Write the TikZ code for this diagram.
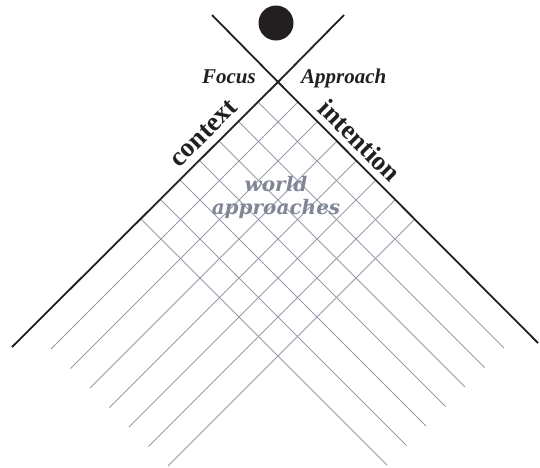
\documentclass[tikz,border=0pt]{standalone}
\usepackage{fontspec}
\setmainfont{Liberation Serif}
\newfontfamily\worldfont{DejaVu Serif}
\usepackage{tikz}
\usetikzlibrary{positioning,calc}
\definecolor{ink}{RGB}{35,31,32}
\definecolor{gridgray}{RGB}{150,155,170}
\definecolor{worldgray}{RGB}{128,134,150}

\begin{document}
\begin{tikzpicture}[x=1pt, y=-1pt]
    \tikzset{
        axis/.style={draw=ink, line width=1.8pt},
        gridline/.style={draw=gridgray, line width=1pt},
        sun/.style={circle, fill=ink, minimum size=35pt, inner sep=0pt},
        tag/.style={font=\fontsize{21}{24}\selectfont\bfseries\itshape, text=ink, inner sep=0pt},
        side/.style={font=\fontsize{27}{30}\selectfont\bfseries, text=ink, inner sep=0pt},
        world/.style={font=\worldfont\fontsize{20}{23}\selectfont\bfseries\itshape, text=worldgray, align=center, inner sep=0pt}
    }
    \useasboundingbox (0,0) rectangle (540,467);

    % Crossing point and the two main axes
    \coordinate (x) at (278,82);
    \coordinate (ltop) at (212,15);
    \coordinate (rtop) at (344,15);
    \coordinate (lend) at (12,347);
    \coordinate (rend) at (538,343);

    % Grid below the crossing
    \foreach \k in {0,...,6} {
        \pgfmathsetmacro{\d}{40+39*\k}
        \draw[gridline] ($(x)+(\d/2,\d/2)$) -- ++(-247,247);
        \draw[gridline] ($(x)+(-\d/2,\d/2)$) -- ++(246,246);
    }

    \draw[axis] (ltop) -- (x) -- (rend);
    \draw[axis] (rtop) -- (x) -- (lend);

    % Focal point
    \node[sun] (dot) at (276,23) {};

    % Labels
    \node[tag, anchor=base east] (focus) at (256,83) {Focus};
    \node[tag, anchor=base west] (approach) at (301,83) {Approach};
    \node[side, rotate=45, anchor=base] (context) at (209.2,138.7) {context};
    \node[side, rotate=-45, anchor=base] (intention) at (353.5,147) {intention};
    \node[world] (approaches) at (276,197) {world\\approaches};

\end{tikzpicture}
\end{document}
